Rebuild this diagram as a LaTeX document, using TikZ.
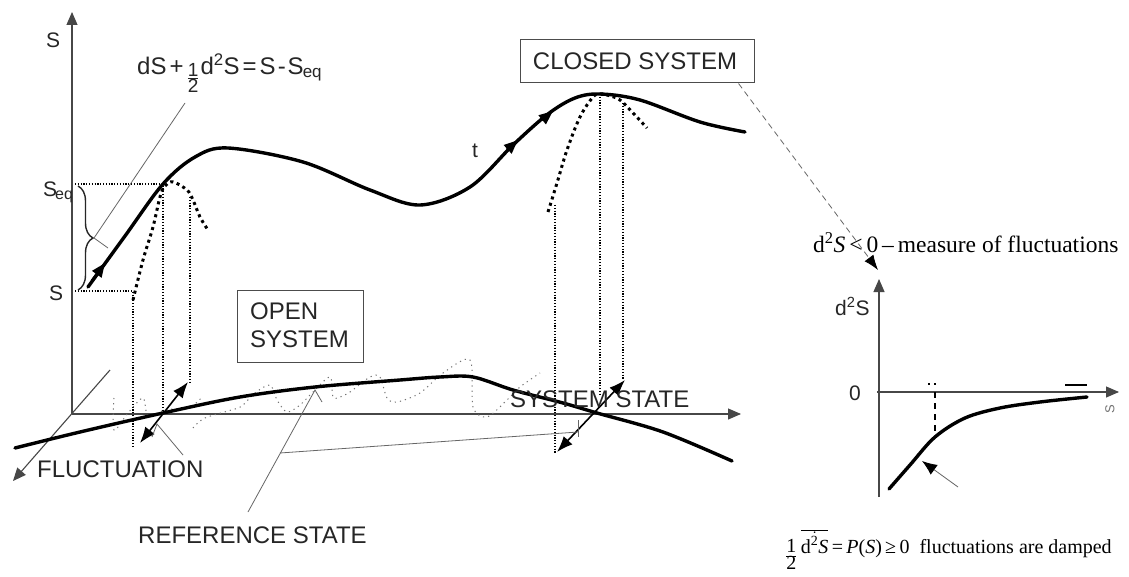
\documentclass[tikz,border=0pt]{standalone}
\usepackage{fontspec}
\setmainfont{Liberation Serif}
\newfontfamily\arialf{Liberation Sans}
\usetikzlibrary{arrows.meta,decorations.pathreplacing,calc}
\begin{document}
\begin{tikzpicture}[x=1pt,y=-1pt,
  axis/.style={line width=1.1pt, draw=black!72},
  axtip/.style={-{Triangle[length=13pt,width=11pt]}},
  leader/.style={line width=0.8pt, draw=black!60},
  thickcurve/.style={line width=3.4pt, line cap=round, line join=round},
  finedots/.style={line width=1.2pt, dash pattern=on 1.2pt off 1.6pt},
  bigdots/.style={line width=3pt, dash pattern=on 3pt off 3.6pt},
  wave/.style={line width=1pt, draw=black!55, dash pattern=on 1.2pt off 4pt},
  curvetip/.style={line width=3pt, -{Triangle[length=14pt,width=11pt]}},
  dbl/.style={line width=1.6pt, {Latex[length=16pt,width=12pt]}-{Latex[length=16pt,width=12pt]}},
  lab/.style={font=\arialf\fontsize{21}{24}\selectfont, text=black!85, inner sep=0pt},
  eqlab/.style={font=\arialf\fontsize{24}{26}\selectfont, text=black!85, inner sep=0pt},
  blab/.style={font=\arialf\fontsize{24}{28}\selectfont, text=black!85, inner sep=0pt},
  tlab/.style={font=\fontsize{23.5}{26}\selectfont, text=black, inner sep=0pt},
  blabt/.style={font=\fontsize{20}{22}\selectfont, text=black, inner sep=0pt},
  frame/.style={draw=black!70, line width=1pt},
]
\fill[white] (0,0) rectangle (1129,577);
\useasboundingbox (0,0) rectangle (1129,577);

% ---------- main axes
\coordinate (O) at (72,414);
\coordinate (Stop) at (72,12);
\coordinate (Xend) at (741,414);
\coordinate (Dstart) at (110,370);
\coordinate (Dend) at (13,481);
\draw[axis,axtip] (O) -- (Stop);
\draw[axis,axtip] (O) -- (Xend);
\draw[axis,axtip] (Dstart) -- (Dend);

% ---------- labels on the S axis
\node[lab, anchor=base west] (Slab) at (46,48) {S};
\node[lab, anchor=base west] (Seq) at (43,197) {S\kern-2pt\raisebox{-3pt}{\fontsize{16}{16}\selectfont eq}};
\node[lab, anchor=base west] (S0) at (49,300) {S};

% equation
\node[eqlab, anchor=base west] (eq) at (137,75)
  {dS\kern3pt+\kern3pt\raisebox{-8pt}{\fontsize{19}{19}\selectfont$\frac{\mbox{1}}{\mbox{2}}$}\kern1pt d\textsuperscript{2}S\kern3pt=\kern3pt S\kern2pt-\kern2pt S\kern-1pt\raisebox{-3pt}{\fontsize{17}{17}\selectfont eq}};

% dotted guide lines
\draw[finedots] (75,184) -- (163,184) -- (163,413);
\draw[finedots] (75,291) -- (133,291) -- (133,447);
\draw[finedots] (190,197) -- (190,383);
\draw[finedots] (555,205) -- (555,453);
\draw[finedots] (600,94) -- (600,395);
\draw[finedots] (623,103) -- (623,380);

% brace
\draw[line width=1.4pt, draw=black!85, decorate, decoration={brace, amplitude=15pt}] (78,186) -- (78,290);
\coordinate (btip) at (94,238);
\coordinate (eqfoot) at (185,103);
\coordinate (btail) at (108,248);
\draw[leader] (eqfoot) -- (btip) -- (btail);

% osculating parabolas
\draw[bigdots] plot[smooth, tension=0.6] coordinates {(133,300) (143,260) (153,227) (160,197) (165,186) (173,182) (187,190) (193,200) (200,217) (208,230)};
\draw[bigdots] plot[smooth, tension=0.6] coordinates {(548,212) (557,183) (567,150) (580,117) (593,97) (600,94) (607,95) (620,100) (633,113) (647,128)};

% fluctuation wave
\draw[wave] plot[smooth, tension=0.5] coordinates {(114,398) (114,430) (128,413) (143,398) (148,416) (165,410) (190,407) (203,396)};
\draw[wave] plot[smooth, tension=0.5] coordinates {(193,428) (205,418) (238,408) (245,403) (255,393) (270,385) (277,400) (287,412) (300,405) (313,392) (330,377) (333,397) (340,397) (350,392) (370,377) (380,377) (387,398) (397,402) (420,393) (443,373) (470,360) (473,407) (487,417) (507,400) (520,387) (540,373)};

% main trajectory
\draw[thickcurve] plot[smooth, tension=0.55] coordinates {(88,287) (125,236) (163,184) (195,157) (228,148) (303,162) (370,190) (420,205) (470,187) (513,145) (548,114) (575,98) (600,94) (640,100) (700,122) (745,132)};
\draw[curvetip] (92,281) -- (105,263);
\draw[curvetip] (507,150) -- (518,140);
\draw[curvetip] (542,120) -- (553,111);
\node[lab, anchor=base west] (t) at (472,158) {t};

% reference state curve
\draw[thickcurve] plot[smooth, tension=0.55] coordinates {(15,448) (80,432) (163,413) (240,397) (315,387) (400,380) (440,377) (473,377) (513,390) (563,403) (597,413) (663,432) (732,461)};

% fluctuation arrows
\coordinate (fa1) at (140,443);
\coordinate (fa2) at (188,382);
\draw[dbl] (fa1) -- (fa2);
\coordinate (fb1) at (557,452);
\coordinate (fb2) at (625,380);
\draw[dbl] (fb1) -- (fb2);

% boxes
\node[frame, minimum width=126pt, minimum height=72pt, inner sep=0pt] (open) at (300,326) {};
\node[blab, anchor=base west] (opentxt) at (250,319) {OPEN};
\node[blab, anchor=base west] (opentxt2) at (250,347) {SYSTEM};
\node[frame, minimum width=234pt, minimum height=43pt, inner sep=0pt] (closed) at (637,61.5) {};
\node[blab, anchor=base] (closedtxt) at (635,70) {CLOSED SYSTEM};

% lower labels
\node[blab, anchor=base west] (fluct) at (37,477) {FLUCTUATION};
\node[blab, anchor=base west] (ref) at (138,543) {REFERENCE STATE};
\node[blab, anchor=base west] (sys) at (510,407) {SYSTEM STATE};

% leaders
\coordinate (fl1) at (183,455);
\coordinate (fl2) at (157,424);
\coordinate (fl3) at (152,437);
\draw[leader] (fl1) -- (fl2) -- (fl3);
\coordinate (rf1) at (248,512);
\coordinate (rf2) at (315,390);
\coordinate (rf3) at (322,402);
\draw[leader] (rf1) -- (rf2) -- (rf3);
\coordinate (rb1) at (280,453);
\coordinate (rb2) at (578,432);
\draw[leader] (rb1) -- (rb2);
\draw[leader] (578,420) -- (578,437);

% dashed leader to the small plot
\coordinate (cl1) at ($(closed.south east)+(-16,0)$);
\coordinate (cl2) at (878,270);
\draw[leader, dash pattern=on 6pt off 4pt, -{Latex[length=15pt,width=11pt,black]}] (cl1) -- (cl2);

% ---------- small plot
\node[tlab, anchor=base west] (meas) at (813,253) {d\textsuperscript{2}\textit{S}\,<\,0\,–\,measure of fluctuations};
\coordinate (O2) at (879,392);
\draw[axis,axtip] (879,497) -- (879,279);
\draw[axis,axtip] (877,392) -- (1119,392);
\node[lab, anchor=base west] (d2s) at (835,315) {d\textsuperscript{2}S};
\node[lab, anchor=base west] (zero) at (849,400) {0};
\node[font=\arialf\fontsize{13}{13}\selectfont, text=black!55, rotate=90, inner sep=0pt] (sinf) at (1110,409) {S};
\draw[thickcurve] plot[smooth, tension=0.55] coordinates {(889,489) (910,465) (935,437) (965,418) (1000,408) (1040,402) (1087,397)};
\draw[line width=1.5pt, dash pattern=on 6pt off 5pt] (935,392) -- (935,434);
\draw[line width=1.4pt, dash pattern=on 2pt off 4pt] (928,384) -- (938,384);
\draw[line width=2pt] (1065,385) -- (1087,385);
\coordinate (pa1) at (958,487);
\coordinate (pa2) at (922,461);
\draw[leader, -{Latex[length=15pt,width=12pt,black]}] (pa1) -- (pa2);

% bottom formula
\node[blabt, anchor=base west] (damp) at (785,553)
  {\raisebox{-8pt}{$\frac{\mbox{1}}{\mbox{2}}$}\,$\overline{\dot{\mbox{d\textsuperscript{2}\textit{S}}}}$\,=\,\textit{P}(\textit{S})\,≥\,0\enspace fluctuations are damped};
\end{tikzpicture}
\end{document}
